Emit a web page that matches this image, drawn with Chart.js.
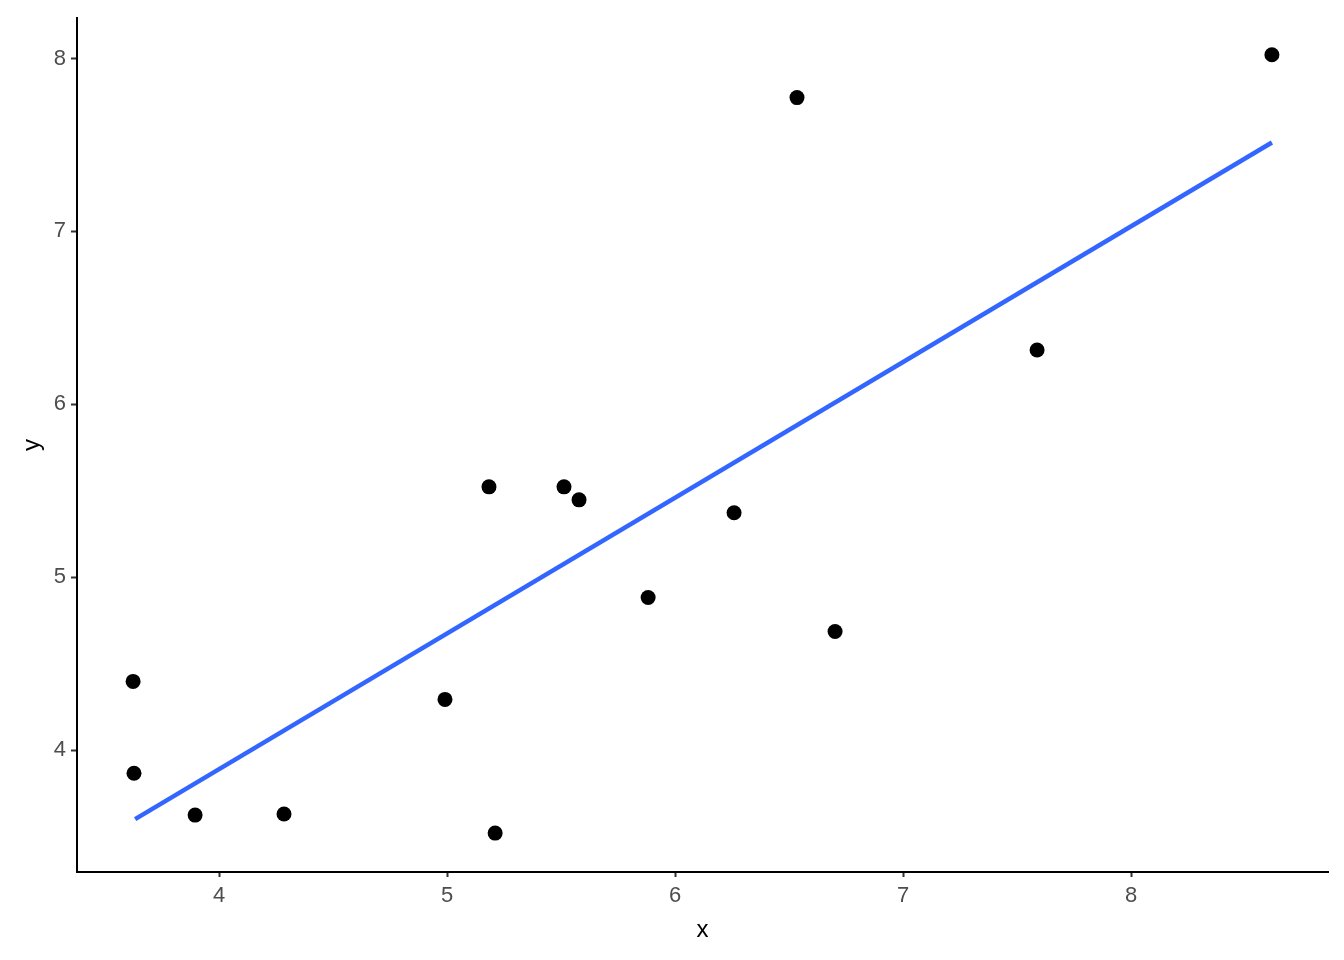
<!DOCTYPE html>
<html>
<head>
<meta charset="utf-8">
<script src="https://cdn.jsdelivr.net/npm/chart.js@4"></script>
<style>
  html, body { margin: 0; padding: 0; background: #fff; }
  #wrap { width: 1344px; height: 960px; }
</style>
</head>
<body>
<div id="wrap"><canvas id="scatterChart"></canvas></div>
<script>
// punkty
const xValues = [3.623, 3.627, 3.895, 4.285, 4.991, 5.184, 5.211, 5.513, 5.579, 5.882, 6.259, 6.535, 6.702, 7.588, 8.618];
const yValues = [4.398, 3.867, 3.625, 3.631, 4.294, 5.523, 3.521, 5.523, 5.448, 4.883, 5.373, 7.774, 4.687, 6.314, 8.022];

// końce linii regresji
const fitX = [3.632, 8.618];
const fitY = [3.602, 7.514];

const xTicks = [4, 5, 6, 7, 8];
const yTicks = [4, 5, 6, 7, 8];

const tickFont = { family: 'Liberation Sans, Arial, sans-serif', size: 22 };
const titleFont = { family: 'Liberation Sans, Arial, sans-serif', size: 24 };

var ctx = document.getElementById('scatterChart').getContext('2d');

new Chart(ctx, {
    type: 'scatter',
    data: {
        datasets: [{
            label: 'punkty',
            data: xValues.map((x, i) => ({ x: x, y: yValues[i] })),
            backgroundColor: '#000000',
            borderWidth: 0,
            pointRadius: 7.5,
            order: 2
        }, {
            type: 'line',
            label: 'fit',
            data: fitX.map((x, i) => ({ x: x, y: fitY[i] })),
            borderColor: '#3366FF',
            borderWidth: 4.5,
            pointRadius: 0,
            fill: false,
            order: 1
        }]
    },
    options: {
        responsive: true,
        maintainAspectRatio: false,
        animation: false,
        layout: {
            padding: { top: 15, right: 16, bottom: 0, left: 0 }
        },
        plugins: {
            legend: { display: false },
            tooltip: { enabled: false }
        },
        scales: {
            x: {
                type: 'linear',
                min: 3.377,
                max: 8.864,
                afterBuildTicks: function(scale) {
                    scale.ticks = xTicks.map(v => ({ value: v }));
                },
                afterFit: function(scale) {
                    scale.height = 88;
                },
                border: { display: true, color: '#000000', width: 2 },
                grid: {
                    drawOnChartArea: false,
                    drawTicks: true,
                    tickLength: 5,
                    tickWidth: 2,
                    tickColor: '#333333'
                },
                ticks: {
                    color: '#4D4D4D',
                    font: tickFont,
                    padding: 6,
                    maxRotation: 0
                },
                title: {
                    display: true,
                    text: 'x',
                    color: '#000000',
                    font: titleFont,
                    padding: { top: 0, bottom: 15 }
                }
            },
            y: {
                type: 'linear',
                min: 3.296,
                max: 8.233,
                afterBuildTicks: function(scale) {
                    scale.ticks = yTicks.map(v => ({ value: v }));
                },
                afterFit: function(scale) {
                    scale.width = 77;
                },
                border: { display: true, color: '#000000', width: 2 },
                grid: {
                    drawOnChartArea: false,
                    drawTicks: true,
                    tickLength: 6,
                    tickWidth: 2,
                    tickColor: '#333333'
                },
                ticks: {
                    color: '#4D4D4D',
                    font: tickFont,
                    padding: 5
                },
                title: {
                    display: true,
                    text: 'y',
                    color: '#000000',
                    font: titleFont,
                    padding: { top: 18, bottom: 0 }
                }
            }
        }
    }
});
</script>
</body>
</html>
